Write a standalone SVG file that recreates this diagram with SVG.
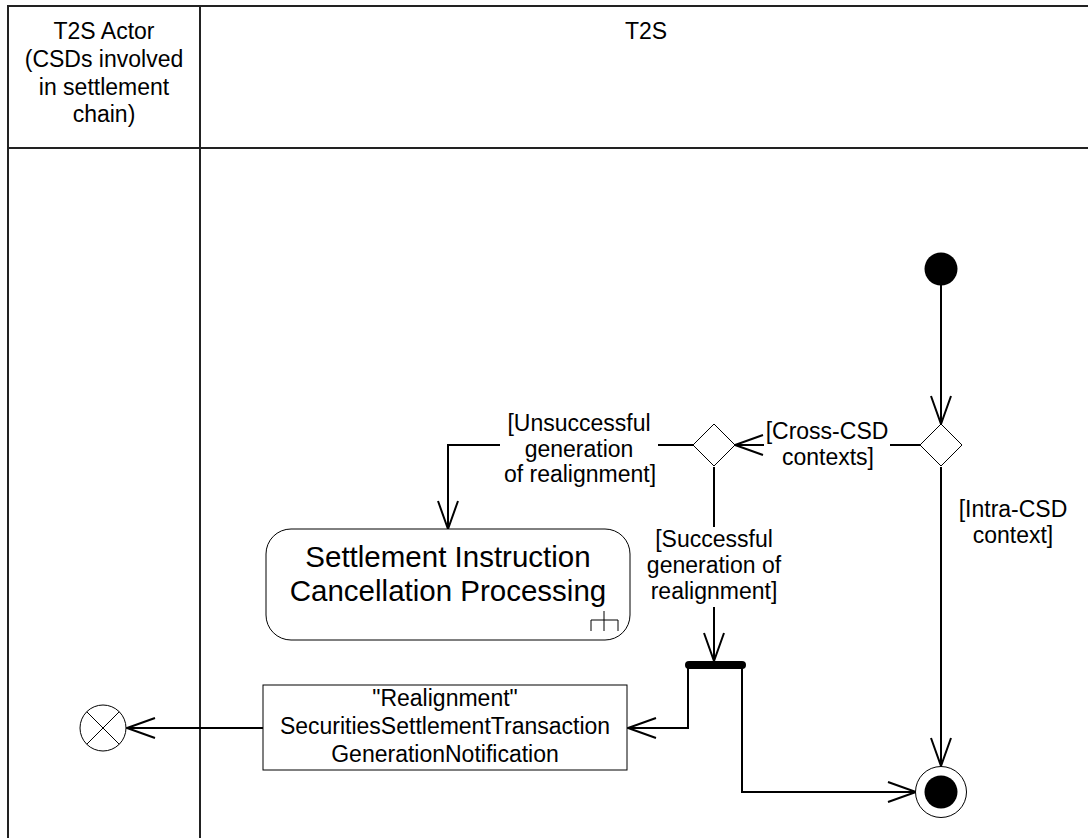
<svg xmlns="http://www.w3.org/2000/svg" width="1088" height="838" viewBox="0 0 1088 838">
<style>
text{font-family:"Liberation Sans",Arial,sans-serif;fill:#000;text-anchor:middle}
.lbl{font-size:23px}
.big{font-size:29.5px}
.lane{stroke:#222;stroke-width:2;fill:none}
.conn{stroke:#000;stroke-width:2;fill:none}
.node{stroke:#000;stroke-width:1;fill:#fff}
</style>
<defs>
<marker id="arr" markerUnits="userSpaceOnUse" markerWidth="32" markerHeight="24" refX="29" refY="11" orient="auto" viewBox="0 0 32 24">
<path d="M1,1 L29,11 L1,21" fill="none" stroke="#000" stroke-width="2"/>
</marker>
</defs>
<rect width="1088" height="838" fill="#fff"/>
<g id="swimlanes">
<path class="lane" d="M8,838 L8,6 L1088,6 M200,6 L200,838 M8,148 L1088,148"/>
<text class="lbl" x="104" y="39">T2S Actor</text>
<text class="lbl" x="104" y="67">(CSDs involved</text>
<text class="lbl" x="104" y="95">in settlement</text>
<text class="lbl" x="104" y="122">chain)</text>
<text class="lbl" x="646" y="39">T2S</text>
</g>
<g id="connectors">
<path class="conn" d="M941,285 L941,424" marker-end="url(#arr)"/>
<path class="conn" d="M920,445 L735,445" marker-end="url(#arr)"/>
<path class="conn" d="M941,467 L941,766" marker-end="url(#arr)"/>
<path class="conn" d="M693,445 L448,445 L448,529" marker-end="url(#arr)"/>
<path class="conn" d="M714,467 L714,661" marker-end="url(#arr)"/>
<path class="conn" d="M688,665 L688,728 L628,728" marker-end="url(#arr)"/>
<path class="conn" d="M742,665 L742,792 L916,792" marker-end="url(#arr)"/>
<path class="conn" d="M263,728 L127,728" marker-end="url(#arr)"/>
<g id="label-cross">
<rect x="764" y="418" width="126" height="52" fill="#fff"/>
<text class="lbl" x="827" y="439">[Cross-CSD</text>
<text class="lbl" x="828" y="465">contexts]</text>
</g>
<g id="label-intra">
<text class="lbl" x="1013" y="517">[Intra-CSD</text>
<text class="lbl" x="1013" y="543">context]</text>
</g>
<g id="label-unsuccessful">
<rect x="500" y="412" width="158" height="78" fill="#fff"/>
<text class="lbl" x="579" y="431">[Unsuccessful</text>
<text class="lbl" x="579" y="457">generation</text>
<text class="lbl" x="580" y="482">of realignment]</text>
</g>
<g id="label-successful">
<rect x="650" y="527" width="128" height="80" fill="#fff"/>
<text class="lbl" x="714" y="547">[Successful</text>
<text class="lbl" x="714" y="573">generation of</text>
<text class="lbl" x="714" y="599">realignment]</text>
</g>
</g>
<g id="initial-node">
<circle cx="941" cy="269" r="16.5" fill="#000"/>
</g>
<g id="decision-cross">
<path class="node" d="M941,424 L962,445 L941,466 L920,445 Z"/>
</g>
<g id="decision-realignment">
<path class="node" d="M714,424 L735,445 L714,466 L693,445 Z"/>
</g>
<g id="settlement-cancellation">
<rect class="node" x="266" y="529" width="364" height="111" rx="25" ry="25"/>
<text class="big"><tspan x="448" y="567">Settlement Instruction</tspan><tspan x="448" y="601">Cancellation Processing</tspan></text>
<path d="M604,611 L604,631 M591,631 L591,620 L618,620 L618,631" stroke="#000" stroke-width="1" fill="none"/>
</g>
<g id="fork">
<rect x="685" y="661" width="61" height="8" rx="4" fill="#000"/>
</g>
<g id="notification">
<rect class="node" x="263" y="685" width="364" height="85"/>
<text class="lbl" x="445" y="706">"Realignment"</text>
<text class="lbl" x="445" y="734">SecuritiesSettlementTransaction</text>
<text class="lbl" x="445" y="762">GenerationNotification</text>
</g>
<g id="flow-final">
<circle class="node" cx="103" cy="728" r="23"/>
<path d="M86.7,711.7 L119.3,744.3 M119.3,711.7 L86.7,744.3" stroke="#000" stroke-width="1"/>
</g>
<g id="activity-final">
<circle class="node" cx="941" cy="792" r="25.5"/>
<circle cx="941" cy="792" r="16.5" fill="#000"/>
</g>
</svg>
